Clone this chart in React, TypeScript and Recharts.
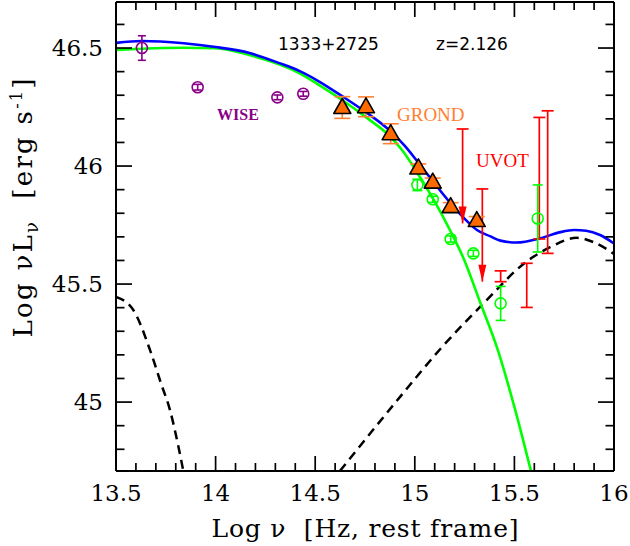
import React from "react";
import {
	ComposedChart,
	ErrorBar,
	Line,
	ReferenceLine,
	Scatter,
	XAxis,
	YAxis,
} from "recharts";

// ---- data (log nu [Hz], log nuL_nu [erg/s]) ----

// WISE photometry, purple open circles
const wiseX = [13.63, 13.91, 14.31, 14.44];
const wiseY = [46.5, 46.334, 46.291, 46.306];
const wiseErr = [0.052, 0.012, 0.01, 0.01];

// GROND photometry, orange triangles
const grondX = [14.636, 14.755, 14.879, 15.018, 15.09, 15.18, 15.311];
const grondY = [46.248, 46.251, 46.137, 45.992, 45.932, 45.828, 45.769];
const grondErr = [0.046, 0.042, 0.042, 0.017, 0.017, 0.017, 0.017];

// green open circles
const greenX = [15.013, 15.09, 15.18, 15.294, 15.431, 15.617];
const greenY = [45.92, 45.859, 45.691, 45.63, 45.418, 45.778];
const greenErr = [0.024, 0.013, 0.013, 0.013, 0.072, 0.142];

// UVOT detections, red bars without a marker (low / high end)
const uvotX = [15.431, 15.562, 15.625, 15.667];
const uvotLo = [45.51, 45.401, 45.691, 45.63];
const uvotHi = [45.556, 45.588, 46.206, 46.234];

// UVOT upper limits (cap at top, arrow tip below)
const ulX = [15.24, 15.339];
const ulTop = [46.157, 45.903];
const ulTip = [45.757, 45.51];

// model curves
const totalX = [13.5, 13.63, 13.84, 14.0, 14.17, 14.32, 14.42, 14.52, 14.635, 14.755, 14.875, 14.95, 15.016, 15.091, 15.177, 15.257, 15.312, 15.377, 15.43, 15.51, 15.63, 15.73, 15.8, 15.86, 15.93, 16.0];
const totalY = [46.522, 46.53, 46.52, 46.504, 46.479, 46.436, 46.403, 46.358, 46.296, 46.228, 46.15, 46.085, 46.016, 45.935, 45.845, 45.771, 45.729, 45.703, 45.684, 45.676, 45.694, 45.72, 45.729, 45.726, 45.708, 45.672];

const diskX = [13.5, 13.63, 13.84, 14.0, 14.17, 14.42, 14.52, 14.635, 14.758, 14.879, 14.934, 15.01, 15.093, 15.177, 15.244, 15.327, 15.419, 15.503, 15.583];
const diskY = [46.492, 46.497, 46.501, 46.499, 46.47, 46.394, 46.343, 46.28, 46.205, 46.123, 46.07, 45.975, 45.86, 45.728, 45.61, 45.425, 45.215, 44.97, 44.708];

const torusX = [13.5, 13.587, 13.671, 13.726, 13.771, 13.81, 13.838];
const torusY = [45.446, 45.39, 45.22, 45.079, 44.966, 44.825, 44.708];

const coronaX = [14.624, 14.926, 15.127, 15.344, 15.562, 15.679, 15.813, 15.896, 16.0];
const coronaY = [44.708, 45.022, 45.224, 45.417, 45.596, 45.656, 45.696, 45.678, 45.628];

// axes
const xTicks = [13.5, 13.6, 13.7, 13.8, 13.9, 14, 14.1, 14.2, 14.3, 14.4, 14.5, 14.6, 14.7, 14.8, 14.9, 15, 15.1, 15.2, 15.3, 15.4, 15.5, 15.6, 15.7, 15.8, 15.9, 16];
const xTickLabels = ["13.5", "14", "14.5", "15", "15.5", "16"];
const yTicks = [44.8, 44.9, 45, 45.1, 45.2, 45.3, 45.4, 45.5, 45.6, 45.7, 45.8, 45.9, 46, 46.1, 46.2, 46.3, 46.4, 46.5, 46.6];
const yTickLabels = ["45", "45.5", "46", "46.5"];

const SERIF = "'DejaVu Serif', serif";
const TIMES = "'Liberation Serif', serif";
const PURPLE = "#880088";
const ORANGE = "#ff6a00";
const ORANGE_BAR = "#ff8030";
const RED = "#ff0000";
const GREEN = "#00ff00";
const BLUE = "#0000ff";

const pts = (xs: number[], ys: number[], extra?: (i: number) => Record<string, unknown>) =>
	xs.map((x, i) => ({ x, y: ys[i], ...(extra ? extra(i) : {}) }));

const fmt = (v: number) => String(Number(v.toFixed(1)));

function BottomTick({ x, y, payload }: any) {
	const label = fmt(payload.value);
	const major = xTickLabels.includes(label);
	return (
		<g>
			<line x1={x} x2={x} y1={y} y2={y - (major ? 15 : 8)} stroke="#000" strokeWidth={1.7} />
			{major && (
				<text x={x} y={y + 30} textAnchor="middle" fontFamily={SERIF} fontSize={23} fill="#000">
					{label}
				</text>
			)}
		</g>
	);
}

function TopTick({ x, y, payload }: any) {
	const major = xTickLabels.includes(fmt(payload.value));
	return <line x1={x} x2={x} y1={y} y2={y + (major ? 15 : 8)} stroke="#000" strokeWidth={1.7} />;
}

function LeftTick({ x, y, payload }: any) {
	const label = fmt(payload.value);
	const major = yTickLabels.includes(label);
	return (
		<g>
			<line x1={x} x2={x + (major ? 16 : 8.5)} y1={y} y2={y} stroke="#000" strokeWidth={1.7} />
			{major && (
				<text x={x - 13} y={y + 8} textAnchor="end" fontFamily={SERIF} fontSize={23} fill="#000">
					{label}
				</text>
			)}
		</g>
	);
}

function RightTick({ x, y, payload }: any) {
	const major = yTickLabels.includes(fmt(payload.value));
	return <line x1={x} x2={x - (major ? 16 : 8.5)} y1={y} y2={y} stroke="#000" strokeWidth={1.7} />;
}

const openCircle = (color: string, r: number) => (props: any) => (
	<circle cx={props.cx} cy={props.cy} r={r} fill="none" stroke={color} strokeWidth={1.6} />
);

const triangle = (props: any) => {
	const { cx, cy } = props;
	return (
		<polygon
			points={`${cx},${cy - 9} ${cx - 8.5},${cy + 6} ${cx + 8.5},${cy + 6}`}
			fill={ORANGE}
			stroke="#000"
			strokeWidth={1.6}
			strokeLinejoin="round"
		/>
	);
};

const arrowHead = (props: any) => {
	const { cx, cy } = props;
	return <polygon points={`${cx},${cy} ${cx - 4},${cy - 17} ${cx + 4},${cy - 17}`} fill={RED} />;
};

const capLine = (props: any) => (
	<line x1={props.cx - 6} x2={props.cx + 6} y1={props.cy} y2={props.cy} stroke={RED} strokeWidth={1.7} />
);

const nothing = () => <g />;

export default function App() {
	const wiseData = pts(wiseX, wiseY, (i) => ({ err: wiseErr[i] }));
	const grondData = pts(grondX, grondY, (i) => ({ err: grondErr[i] }));
	const greenData = pts(greenX, greenY, (i) => ({ err: greenErr[i] }));
	const uvotData = uvotX.map((x, i) => ({
		x,
		y: (uvotLo[i] + uvotHi[i]) / 2,
		err: (uvotHi[i] - uvotLo[i]) / 2,
	}));
	const ulTopData = pts(ulX, ulTop);
	const ulTipData = pts(ulX, ulTip);

	const axisLine = { stroke: "#000", strokeWidth: 2 };

	// plot box: x 116..614, y 2..471 (axes take part of the margin)
	return (
		<div style={{ position: "absolute", left: 0, top: 0, width: 630, height: 546, background: "#fff" }}>
			<ComposedChart width={630} height={546} margin={{ top: 1, right: 15, bottom: 45, left: 56 }}>
				<XAxis
					dataKey="x"
					type="number"
					domain={[13.5, 16]}
					ticks={xTicks}
					interval={0}
					allowDataOverflow
					height={30}
					tickSize={0}
					tickMargin={0}
					tickLine={false}
					axisLine={axisLine}
					tick={<BottomTick />}
				/>
				<XAxis
					xAxisId="top"
					orientation="top"
					dataKey="x"
					type="number"
					domain={[13.5, 16]}
					ticks={xTicks}
					interval={0}
					allowDataOverflow
					height={1}
					tickSize={0}
					tickMargin={0}
					tickLine={false}
					axisLine={axisLine}
					tick={<TopTick />}
				/>
				<YAxis
					dataKey="y"
					type="number"
					domain={[44.708, 46.695]}
					ticks={yTicks}
					interval={0}
					allowDataOverflow
					width={60}
					tickSize={0}
					tickMargin={0}
					tickLine={false}
					axisLine={axisLine}
					tick={<LeftTick />}
				/>
				<YAxis
					yAxisId="right"
					orientation="right"
					dataKey="y"
					type="number"
					domain={[44.708, 46.695]}
					ticks={yTicks}
					interval={0}
					allowDataOverflow
					width={1}
					tickSize={0}
					tickMargin={0}
					tickLine={false}
					axisLine={axisLine}
					tick={<RightTick />}
				/>

				<Line data={pts(torusX, torusY)} dataKey="y" type="monotone" stroke="#000" strokeWidth={2.5} strokeDasharray="9 6" dot={false} isAnimationActive={false} />
				<Line data={pts(coronaX, coronaY)} dataKey="y" type="monotone" stroke="#000" strokeWidth={2.5} strokeDasharray="9 6" dot={false} isAnimationActive={false} />
				<Line data={pts(diskX, diskY)} dataKey="y" type="monotone" stroke={GREEN} strokeWidth={2.6} dot={false} isAnimationActive={false} />
				<Line data={pts(totalX, totalY)} dataKey="y" type="monotone" stroke={BLUE} strokeWidth={2.6} dot={false} isAnimationActive={false} />

				{ulX.map((x, i) => (
					<ReferenceLine
						key={x}
						segment={[
							{ x, y: ulTop[i] },
							{ x, y: ulTip[i] },
						]}
						stroke={RED}
						strokeWidth={1.7}
					/>
				))}

				<Scatter data={uvotData} shape={nothing} isAnimationActive={false}>
					<ErrorBar dataKey="err" direction="y" width={6} stroke={RED} strokeWidth={1.7} />
				</Scatter>
				<Scatter data={ulTopData} shape={capLine} isAnimationActive={false} />
				<Scatter data={ulTipData} shape={arrowHead} isAnimationActive={false} />
				<Scatter data={wiseData} shape={openCircle(PURPLE, 5.5)} isAnimationActive={false}>
					<ErrorBar dataKey="err" direction="y" width={4} stroke={PURPLE} strokeWidth={1.6} />
				</Scatter>
				<Scatter data={greenData} shape={openCircle(GREEN, 5.5)} isAnimationActive={false}>
					<ErrorBar dataKey="err" direction="y" width={5} stroke={GREEN} strokeWidth={1.6} />
				</Scatter>
				<Scatter data={grondData} shape={triangle} isAnimationActive={false}>
					<ErrorBar dataKey="err" direction="y" width={8} stroke={ORANGE_BAR} strokeWidth={1.6} />
				</Scatter>
			</ComposedChart>

			<svg width={630} height={546} style={{ position: "absolute", left: 0, top: 0, pointerEvents: "none" }}>
				<text x={278} y={50} fontFamily="'DejaVu Sans', sans-serif" fontSize={17} fill="#000">
					1333+2725
				</text>
				<text x={436} y={50} fontFamily="'DejaVu Sans', sans-serif" fontSize={17} fill="#000">
					z=2.126
				</text>
				<text x={217} y={120} fontFamily={TIMES} fontWeight="bold" fontSize={16} fill={PURPLE}>
					WISE
				</text>
				<text x={397} y={120.5} fontFamily={TIMES} fontSize={19} fill={ORANGE_BAR}>
					GROND
				</text>
				<text x={476} y={167} fontFamily={TIMES} fontSize={19} fill={RED}>
					UVOT
				</text>
				<text
					x={365}
					y={537}
					textAnchor="middle"
					fontFamily={SERIF}
					fontSize={25}
					textLength={307}
					lengthAdjust="spacing"
					style={{ whiteSpace: "pre" }}
				>
					{"Log ν  [Hz, rest frame]"}
				</text>
				<text
					transform="translate(32,208) rotate(-90)"
					textAnchor="middle"
					fontFamily={SERIF}
					fontSize={26}
					textLength={259}
					lengthAdjust="spacing"
					style={{ whiteSpace: "pre" }}
				>
					{"Log νL"}
					<tspan fontSize={18} dy={6}>
						ν
					</tspan>
					<tspan dy={-6}>{"  [erg s"}</tspan>
					<tspan fontSize={16} dy={-10}>
						-1
					</tspan>
					<tspan dy={10}>]</tspan>
				</text>
			</svg>
		</div>
	);
}
